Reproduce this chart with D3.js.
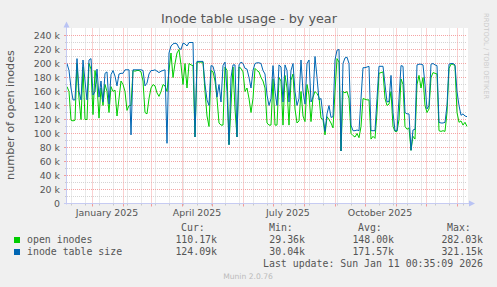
<!DOCTYPE html>
<html><head><meta charset="utf-8">
<script src="https://cdn.jsdelivr.net/npm/d3@7"></script>
<style>body{margin:0;background:#f0f0f0;overflow:hidden}</style>
</head><body>
<svg id="c" width="497" height="287"></svg>
<script>
// ---- data (values in thousands, one sample every 2 days) ----
const startDate = new Date(Date.UTC(2024, 11, 7, 0, 35, 9));
const endDate = new Date(Date.UTC(2026, 0, 11, 0, 35, 9));
const stepDays = 2;
const openInodes = [
167,160,119,118,119,200,150,120,195,120,
120,200,192,127,190,170,122,165,140,170,
160,130,167,160,162,125,150,175,170,160,
133,140,140,190,189,190,190,188,175,130,
128,150,165,170,168,158,153,160,170,168,
160,190,215,180,200,215,220,198,170,200,
165,200,198,197,95,202,202,202,202,160,
125,110,
190,188,175,150,115,112,112,195,190,84,
140,195,135,95,195,193,188,160,165,150,
130,150,193,190,188,180,175,165,115,112,
112,178,112,112,180,175,112,183,165,112,
176,185,135,115,118,160,125,117,170,155,
117,152,160,157,152,122,120,98,124,120,
115,108,160,207,202,75,160,158,160,150,
100,97,95,100,94,110,150,149,148,148,
92,96,93,130,186,187,188,150,140,142,
160,110,103,103,120,178,170,110,106,108,
76,96,92,170,183,165,180,140,130,135,
180,187,186,185,104,103,104,103,130,193,
199,199,196,130,116,118,112,116,110
];
const tableSize = [
200,190,165,148,148,207,160,148,205,175,
148,205,207,155,160,192,152,175,145,186,
188,142,184,190,182,168,185,186,186,191,
191,191,98,191,191,191,191,191,190,168,
172,185,190,190,191,189,187,189,190,191,
86,215,225,228,229,228,222,220,229,228,
225,230,230,230,95,203,203,203,203,170,
148,140,
197,196,185,152,170,145,197,202,160,84,
180,198,198,95,198,202,200,193,192,180,
165,190,200,201,201,200,190,185,155,140,
150,197,160,140,198,195,145,198,190,145,
190,200,160,140,150,205,160,142,200,205,
145,152,210,180,148,150,125,103,128,140,
123,124,205,219,220,75,200,208,209,200,
112,104,104,105,104,150,194,194,195,196,
104,104,104,150,196,196,196,170,145,146,
183,130,104,104,150,197,196,130,128,128,
76,105,106,198,199,199,198,170,135,140,
199,200,198,197,116,115,115,116,140,199,
200,200,198,160,140,126,128,125,124
];
const yTicks = [0,20,40,60,80,100,120,140,160,180,200,220,240];
const xLabelMonths = [new Date(Date.UTC(2025,0,1)), new Date(Date.UTC(2025,3,1)), new Date(Date.UTC(2025,6,1)), new Date(Date.UTC(2025,9,1))];
const xLabelTexts = ["January 2025","April 2025","July 2025","October 2025"];
const seriesNames = ["open inodes","inode table size"];
const seriesColors = ["#00cc00","#0066b3"];
const statHeaders = ["Cur:","Min:","Avg:","Max:"];
const curVals = ["110.17k","124.09k"];
const minVals = ["29.36k","30.04k"];
const avgVals = ["148.00k","171.57k"];
const maxVals = ["282.03k","321.15k"];
const lastUpdate = "Last update: Sun Jan 11 00:35:09 2026";
const titleText = "Inode table usage - by year";
const yLabelText = "number of open inodes";

// ---- drawing ----
const svg = d3.select('#c');
const W = 497, H = 287;
const L = 67, R = 467, T = 28.5, B = 203.5;
svg.append('rect').attr('width', W).attr('height', H).attr('fill', '#f0f0f0');
svg.append('rect').attr('x', L).attr('y', 28).attr('width', R - L + 1).attr('height', B - 28).attr('fill', '#ffffff');

const x = d3.scaleUtc().domain([startDate, endDate]).range([L, R]);
const y = d3.scaleLinear().domain([0, 250]).range([B, T]);
const dateAt = i => new Date(startDate.getTime() + i * stepDays * 86400000);

const gGrid = svg.append('g');
// minor horizontal
d3.range(10, 250, 20).forEach(v => {
  gGrid.append('line').attr('x1', L).attr('x2', R).attr('y1', y(v)).attr('y2', y(v))
    .attr('stroke', '#d4d4d4').attr('stroke-dasharray', '1,1');
  gGrid.append('line').attr('x1', L - 2).attr('x2', L).attr('y1', y(v)).attr('y2', y(v)).attr('stroke', '#c8c8c8');
});
// minor vertical
const minorStart = new Date(Date.UTC(2024, 11, 11));
d3.utcDay.every(1).range(minorStart, endDate).filter((d, i) => i % 14 === 0).forEach(d => {
  const xx = Math.round(x(d)) + 0.5;
  gGrid.append('line').attr('x1', xx).attr('x2', xx).attr('y1', T).attr('y2', B)
    .attr('stroke', '#d4d4d4').attr('stroke-dasharray', '1,1');
  gGrid.append('line').attr('x1', xx).attr('x2', xx).attr('y1', B).attr('y2', B + 2).attr('stroke', '#c8c8c8');
});
// major horizontal
yTicks.forEach(v => {
  if (v === 0) return;
  gGrid.append('line').attr('x1', L).attr('x2', R).attr('y1', y(v)).attr('y2', y(v))
    .attr('stroke', '#f5a3a3').attr('stroke-dasharray', '1,1');
  gGrid.append('line').attr('x1', L - 3).attr('x2', L).attr('y1', y(v)).attr('y2', y(v)).attr('stroke', '#f29a9a');
});
// major vertical (months)
d3.utcMonth.range(startDate, endDate).forEach(d => {
  const xx = Math.round(x(d)) + 0.5;
  gGrid.append('line').attr('x1', xx).attr('x2', xx).attr('y1', T).attr('y2', B)
    .attr('stroke', '#f5a3a3').attr('stroke-dasharray', '1,1');
  gGrid.append('line').attr('x1', xx).attr('x2', xx).attr('y1', B).attr('y2', B + 3).attr('stroke', '#f29a9a');
});

// series
const line = d3.line().x((d, i) => x(dateAt(i))).y(d => y(d));
[openInodes, tableSize].forEach((s, k) => {
  svg.append('path').datum(s).attr('d', line).attr('fill', 'none')
    .attr('stroke', seriesColors[k]).attr('stroke-width', 1);
});

// axes
const axisColor = '#c6cbf2';
svg.append('line').attr('x1', L - 0.5).attr('x2', L - 0.5).attr('y1', B + 1).attr('y2', 24).attr('stroke', axisColor);
svg.append('line').attr('x1', L - 3).attr('x2', 470).attr('y1', B).attr('y2', B).attr('stroke', axisColor);
svg.append('path').attr('d', `M${L-3.5},27.5L${L+2.5},27.5L${L-0.5},21.5Z`).attr('fill', '#b9c3f4');
svg.append('path').attr('d', `M469,200.5L469,206.5L475,203.5Z`).attr('fill', '#b9c3f4');

// y tick labels
const txt = '#555555';
yTicks.forEach(v => {
  svg.append('text').attr('x', 60).attr('y', y(v) + 3.4).attr('text-anchor', 'end')
    .attr('font-family', 'DejaVu Sans').attr('font-size', 9.4).attr('fill', txt)
    .text(v === 0 ? '0' : v + ' k');
});
// x labels (centered mid-month)
xLabelMonths.forEach((d, i) => {
  const c = new Date(d.getTime() + 15 * 86400000);
  svg.append('text').attr('x', x(c)).attr('y', 216).attr('text-anchor', 'middle')
    .attr('font-family', 'DejaVu Sans').attr('font-size', 9.4).attr('fill', txt)
    .text(xLabelTexts[i]);
});
// title
svg.append('text').attr('x', 249).attr('y', 23).attr('text-anchor', 'middle')
  .attr('font-family', 'DejaVu Sans').attr('font-size', 12.8).attr('fill', txt).text(titleText);
// y label
svg.append('text').attr('transform', 'translate(14,115) rotate(-90)').attr('text-anchor', 'middle')
  .attr('font-family', 'DejaVu Sans').attr('font-size', 11.2).attr('fill', txt).text(yLabelText);
// rrdtool credit
svg.append('text').attr('transform', 'translate(484,13) rotate(90)')
  .attr('font-family', 'DejaVu Sans').attr('font-size', 6.7).attr('fill', '#cccccc').text('RRDTOOL / TOBI OETIKER');

// legend
const mono = 'DejaVu Sans Mono', fs = 9.9;
const headX = [181, 269, 358, 447];
const valRight = [217, 305, 394, 483];
statHeaders.forEach((h, i) => {
  svg.append('text').attr('x', headX[i]).attr('y', 231).attr('font-family', mono).attr('font-size', fs).attr('fill', txt).text(h);
});
const cols = [curVals, minVals, avgVals, maxVals];
seriesNames.forEach((n, k) => {
  const by = 243 + 12 * k;
  svg.append('rect').attr('x', 14).attr('y', by - 6).attr('width', 6).attr('height', 6).attr('fill', seriesColors[k]);
  svg.append('text').attr('x', 27).attr('y', by).attr('font-family', mono).attr('font-size', fs).attr('fill', txt).text(n);
  cols.forEach((c, i) => {
    svg.append('text').attr('x', valRight[i]).attr('y', by).attr('text-anchor', 'end')
      .attr('font-family', mono).attr('font-size', fs).attr('fill', txt).text(c[k]);
  });
});
svg.append('text').attr('x', 483).attr('y', 267).attr('text-anchor', 'end')
  .attr('font-family', mono).attr('font-size', fs).attr('fill', txt).text(lastUpdate);
svg.append('text').attr('x', 248).attr('y', 279).attr('text-anchor', 'middle')
  .attr('font-family', 'DejaVu Sans').attr('font-size', 7.6).attr('fill', '#bbbbbb').text('Munin 2.0.76');
</script>
</body></html>
